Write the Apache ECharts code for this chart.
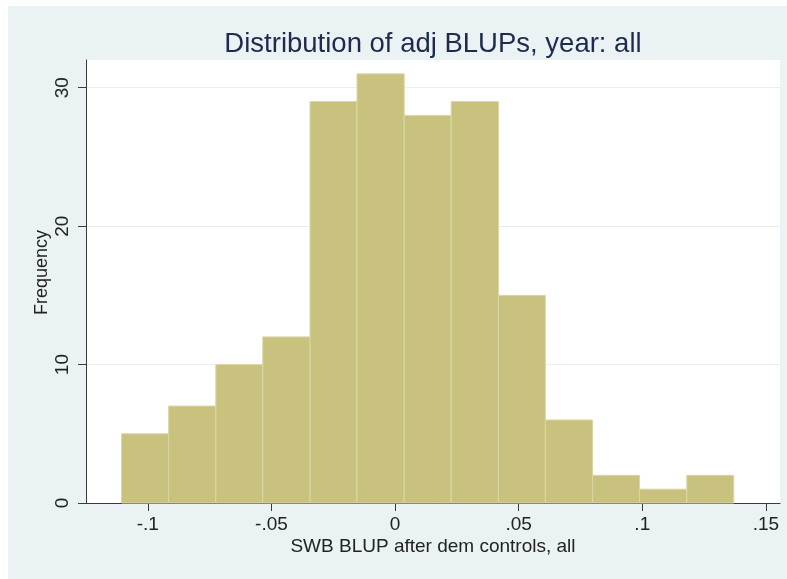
<!DOCTYPE html>
<html>
<head>
<meta charset="utf-8">
<script src="https://cdn.jsdelivr.net/npm/echarts@6/dist/echarts.min.js"></script>
<style>
  html, body { margin: 0; padding: 0; background: #ffffff; }
  #chart { position: absolute; left: 8px; top: 6px; width: 779px; height: 573px; }
</style>
</head>
<body>
<div id="chart"></div>
<script>
// ---- data ----
const titleText = 'Distribution of adj BLUPs, year: all';
const xName = 'SWB BLUP after dem controls, all';
const yName = 'Frequency';
const binEdges = [-0.1106, -0.0916, -0.0725, -0.0535, -0.0344, -0.0154, 0.0037,
                  0.0227, 0.0418, 0.0608, 0.0799, 0.0989, 0.1180, 0.1370];
const counts = [5, 7, 10, 12, 29, 31, 28, 29, 15, 6, 2, 1, 2];
const xTicks = [-0.1, -0.05, 0, 0.05, 0.1, 0.15];
const xTickLabels = ['-.1', '-.05', '0', '.05', '.1', '.15'];
const yTicks = [0, 10, 20, 30];
const yTickLabels = ['0', '10', '20', '30'];

const FONT = '"Liberation Sans", Arial, sans-serif';

const barData = counts.map((c, i) => [binEdges[i], binEdges[i + 1], c]);

const chart = echarts.init(document.getElementById('chart'), null, { renderer: 'canvas' });

chart.setOption({
  backgroundColor: '#eaf2f3',
  animation: false,
  graphic: [{
    type: 'text',
    x: 425,
    y: 38,
    style: {
      text: titleText,
      font: '27.5px ' + FONT,
      fill: '#1e2b4e',
      align: 'center',
      verticalAlign: 'middle'
    }
  }],
  grid: {
    left: 78, top: 54, width: 694, height: 443,
    show: true, backgroundColor: '#ffffff', borderWidth: 0
  },
  xAxis: {
    type: 'value',
    min: -0.125, max: 0.1557,
    name: xName,
    nameLocation: 'middle',
    nameGap: 34,
    nameMoveOverlap: false,
    nameTextStyle: { fontFamily: FONT, fontSize: 19, color: '#222222' },
    axisLine: { show: true, onZero: false, lineStyle: { color: '#3a3a3a', width: 1 } },
    axisTick: { show: true, length: 8, customValues: xTicks, lineStyle: { color: '#3a3a3a' } },
    axisLabel: {
      customValues: xTicks,
      margin: 12,
      fontFamily: FONT, fontSize: 19, color: '#222222',
      formatter: (v) => {
        const i = xTicks.findIndex(t => Math.abs(t - v) < 1e-9);
        return i >= 0 ? xTickLabels[i] : '';
      }
    },
    splitLine: { show: false }
  },
  yAxis: {
    type: 'value',
    min: 0, max: 32,
    name: yName,
    nameLocation: 'middle',
    nameGap: 35,
    nameMoveOverlap: false,
    nameTextStyle: { fontFamily: FONT, fontSize: 18, color: '#222222', padding: [0, 0, 0, 18] },
    axisLine: { show: true, onZero: false, lineStyle: { color: '#3a3a3a', width: 1 } },
    axisTick: { show: true, length: 8, customValues: yTicks, lineStyle: { color: '#3a3a3a' } },
    axisLabel: {
      customValues: yTicks,
      rotate: 90,
      margin: 14,
      fontFamily: FONT, fontSize: 19, color: '#222222',
      formatter: (v) => {
        const i = yTicks.findIndex(t => Math.abs(t - v) < 1e-9);
        return i >= 0 ? yTickLabels[i] : '';
      }
    },
    splitLine: { show: true, lineStyle: { color: '#eceeee', width: 1 } }
  },
  series: [{
    type: 'custom',
    data: barData,
    encode: { x: [0, 1], y: 2 },
    renderItem: function (params, api) {
      const p0 = api.coord([api.value(0), api.value(2)]);
      const p1 = api.coord([api.value(1), 0]);
      return {
        type: 'rect',
        shape: { x: p0[0], y: p0[1], width: p1[0] - p0[0], height: p1[1] - p0[1] },
        style: { fill: '#c9c27e', stroke: '#dbd6a6', lineWidth: 1 }
      };
    }
  }]
});
</script>
</body>
</html>
